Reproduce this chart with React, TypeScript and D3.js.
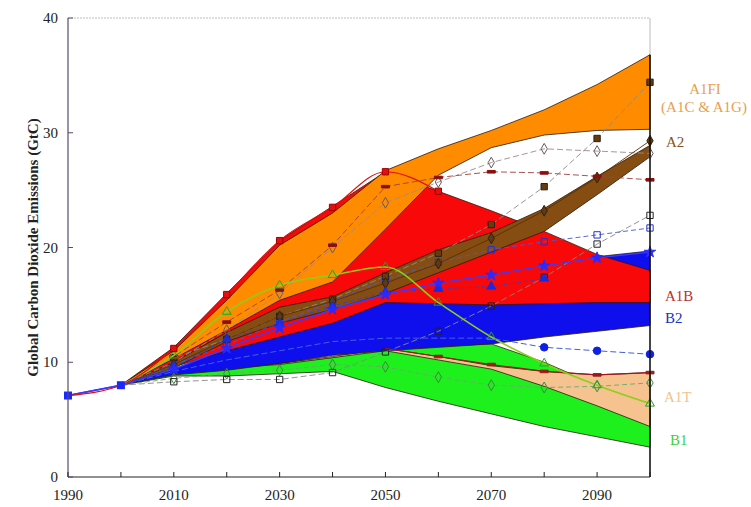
import React from 'react';
import * as d3 from 'd3';

const YEARS = [1990, 2000, 2010, 2020, 2030, 2040, 2050, 2060, 2070, 2080, 2090, 2100];
const BAND_YEARS = [2000, 2010, 2020, 2030, 2040, 2050, 2060, 2070, 2080, 2090, 2100];
const X_TICKS = [1990, 2000, 2010, 2020, 2030, 2040, 2050, 2060, 2070, 2080, 2090, 2100];
const X_LABELS = [1990, 2010, 2030, 2050, 2070, 2090];
const Y_TICKS = [0, 10, 20, 30, 40];

// scenario group ranges (GtC)
const A1FI_UPPER = [8.0, 11.0, 15.4, 20.2, 23.0, 26.7, 28.6, 30.2, 32.0, 34.2, 36.8];
const A1FI_LOWER = [8.0, 10.3, 12.8, 15.4, 17.0, 21.6, 26.3, 28.7, 29.8, 30.2, 30.3];
const A1B_UPPER = [8.0, 11.3, 16.0, 20.6, 23.6, 26.6, 24.9, 23.2, 21.4, 19.4, 18.0];
const A1B_LOWER = [8.0, 9.6, 11.0, 12.2, 13.4, 15.2, 15.1, 15.0, 15.1, 15.2, 15.2];
const A2_UPPER = [8.0, 10.0, 12.6, 14.8, 15.7, 17.8, 19.8, 21.3, 23.4, 26.2, 28.9];
const A2_LOWER = [8.0, 9.5, 11.8, 13.4, 14.6, 16.0, 17.8, 19.6, 21.4, 24.6, 27.9];
const B2_UPPER = [8.0, 9.4, 11.2, 13.0, 14.6, 15.9, 16.9, 17.6, 18.4, 19.2, 19.7];
const B2_LOWER = [8.0, 8.9, 9.3, 9.9, 10.6, 11.0, 11.3, 11.6, 12.2, 12.7, 13.2];
const B1_UPPER = [8.0, 9.3, 9.6, 9.9, 10.4, 11.2, 11.4, 11.6, 10.0, 8.0, 6.0];
const B1_LOWER = [8.0, 8.8, 8.8, 9.0, 9.2, 7.8, 6.6, 5.5, 4.4, 3.5, 2.6];
const A1T_UPPER = [8.0, 9.3, 9.6, 9.9, 10.5, 11.2, 10.5, 9.7, 9.2, 8.9, 9.1];
const A1T_LOWER = [8.0, 9.2, 9.5, 9.8, 10.4, 11.0, 10.2, 9.4, 7.9, 6.2, 4.4];

// individual scenarios (GtC), aligned with YEARS
const S_RED_SQ = [7.1, 8.0, 11.2, 15.9, 20.6, 23.5, 26.6, 24.9, null, null, null, null];
const S_DARKRED_DASH = [null, 8.0, 10.5, 13.5, 16.3, 20.2, 25.3, 26.1, 26.6, 26.5, 26.2, 25.9];
const S_GREY_DIAMOND = [null, 8.0, 10.0, 12.8, 16.0, 20.0, 23.9, 25.7, 27.4, 28.6, 28.4, 28.2];
const S_BROWN_SQ = [null, 8.0, 10.4, 12.0, 14.0, 15.5, 17.5, 19.5, 22.0, 25.3, 29.5, 34.4];
const S_A2_DIAMOND = [null, 8.0, 9.8, 12.0, 14.0, 15.3, 16.9, 18.6, 20.8, 23.2, 26.1, 29.3];
const S_BLUE_STAR = [7.1, 8.0, 9.4, 11.2, 13.0, 14.6, 15.9, 16.9, 17.6, 18.4, 19.1, 19.6];
const S_BLUE_TRI = [null, 8.0, 9.6, 12.0, 13.4, 14.9, 16.1, 16.4, 16.6, 17.3, null, null];
const S_BLUE_CIRCLE = [null, 8.0, 9.2, 10.2, 11.0, 11.8, 12.1, 12.1, 12.1, 11.3, 11.0, 10.7];
const S_BLUE_OPEN_SQ = [null, 8.0, 9.8, 11.5, 13.5, 15.3, 17.2, 18.7, 19.8, 20.5, 21.1, 21.7];
const S_BLACK_OPEN_SQ = [null, 8.0, 8.3, 8.5, 8.5, 9.1, 10.9, 12.7, 14.9, 17.4, 20.3, 22.8];
const S_GREEN_TRI = [null, 8.0, 10.6, 14.4, 16.7, 17.6, 18.3, 15.2, 12.2, 9.9, 8.0, 6.4];
const S_A1T_DARKRED = [null, null, null, null, null, null, 11.2, 10.5, 9.8, 9.2, 8.9, 9.1];
const S_GREEN_DIAMOND = [null, 8.0, 8.6, 9.0, 9.3, 9.8, 9.6, 8.7, 8.0, 7.8, 7.9, 8.2];
const ORIGIN = [7.1, 8.0];

const W = 751, H = 507;
const x = d3.scaleLinear().domain([1990, 2100]).range([68, 650]);
const y = d3.scaleLinear().domain([0, 40]).range([477, 18]);

type Band = { upper: number[]; lower: number[]; fill: string };
const BANDS: Band[] = [
  { upper: B1_UPPER, lower: B1_LOWER, fill: '#1ef01e' },
  { upper: A1T_UPPER, lower: A1T_LOWER, fill: '#f6c28f' },
  { upper: B2_UPPER, lower: B2_LOWER, fill: '#0f0fee' },
  { upper: A1B_UPPER, lower: A1B_LOWER, fill: '#f80808' },
  { upper: A2_UPPER, lower: A2_LOWER, fill: '#864d12' },
  { upper: A1FI_UPPER, lower: A1FI_LOWER, fill: '#ff8c00' },
];

type Series = {
  values: (number | null)[];
  color: string;
  width: number;
  dash?: string;
  symbol: string;
  mfill: string;
  mstroke: string;
  markFrom?: number;
  curve?: boolean;
};

const SERIES: Series[] = [
  { values: S_GREEN_DIAMOND, color: '#6aaa6a', width: 0.9, dash: '5,3', symbol: 'diamond', mfill: 'none', mstroke: '#3a8a3a', markFrom: 2 },
  { values: S_BLACK_OPEN_SQ, color: '#888', width: 0.9, dash: '6,3', symbol: 'square', mfill: 'none', mstroke: '#222', markFrom: 2 },
  { values: S_BLUE_CIRCLE, color: '#4060e0', width: 1, dash: '6,3', symbol: 'circle', mfill: '#1020e0', mstroke: '#1020e0', markFrom: 9 },
  { values: S_A1T_DARKRED, color: '#9b1b1b', width: 1.2, symbol: 'dash', mfill: '#9b1b1b', mstroke: '#9b1b1b', markFrom: 7 },
  { values: S_BLUE_OPEN_SQ, color: '#4a5ad0', width: 0.9, dash: '5,3', symbol: 'square', mfill: 'none', mstroke: '#2233cc', markFrom: 2 },
  { values: S_GREY_DIAMOND, color: '#a08a8a', width: 0.9, dash: '6,3', symbol: 'diamond', mfill: 'none', mstroke: '#6a5a5a', markFrom: 2 },
  { values: S_BROWN_SQ, color: '#8a8a8a', width: 0.9, dash: '6,3', symbol: 'square', mfill: '#6b3a0a', mstroke: '#222', markFrom: 2 },
  { values: S_A2_DIAMOND, color: '#5a3000', width: 0.9, symbol: 'diamond', mfill: '#5a3a1a', mstroke: '#3a2000', markFrom: 2 },
  { values: S_DARKRED_DASH, color: '#a04040', width: 0.9, dash: '6,3', symbol: 'dash', mfill: '#8b1010', mstroke: '#8b1010', markFrom: 2 },
  { values: S_BLUE_TRI, color: '#3040d0', width: 0.9, dash: '4,3', symbol: 'triangle', mfill: '#1a2ae0', mstroke: '#1a2ae0', markFrom: 2 },
  { values: S_BLUE_STAR, color: '#3b3bff', width: 1.4, symbol: 'star', mfill: '#2a2aff', mstroke: '#2a2aff', markFrom: 2 },
  { values: S_GREEN_TRI, color: '#8ccf1a', width: 1.6, symbol: 'triangle', mfill: 'none', mstroke: '#2aa02a', markFrom: 2, curve: true },
  { values: S_RED_SQ, color: '#e01010', width: 1.2, symbol: 'square', mfill: '#e01010', mstroke: '#a00000', markFrom: 2, curve: true },
];

const symbolPath = (name: string): string => {
  const map: Record<string, d3.SymbolType> = {
    square: d3.symbolSquare,
    diamond: d3.symbolDiamond,
    triangle: d3.symbolTriangle,
    circle: d3.symbolCircle,
    star: d3.symbolStar,
  };
  if (name === 'dash') return 'M-4,-1.3H4V1.3H-4Z';
  const size = name === 'square' ? 40 : name === 'circle' ? 45 : name === 'star' ? 40 : 34;
  return d3.symbol(map[name], size)() as string;
};

export default function App() {
  const area = d3
    .area<number>()
    .x((_, i) => x(BAND_YEARS[i]))
    .y0((_, i) => y(0))
    .y1((d) => y(d));

  const bandPath = (b: Band) => {
    const pts: [number, number][] = [];
    b.upper.forEach((v, i) => pts.push([x(BAND_YEARS[i]), y(v)]));
    for (let i = b.lower.length - 1; i >= 0; i--) pts.push([x(BAND_YEARS[i]), y(b.lower[i])]);
    return d3.line()(pts) + 'Z';
  };
  void area;

  return (
    <svg width={W} height={H} style={{ position: 'absolute', left: 0, top: 0, background: '#fff' }}
      fontFamily="'Liberation Serif', 'DejaVu Serif', serif">
      {/* frame */}
      <line x1={x(1990)} x2={x(2100)} y1={y(40)} y2={y(40)} stroke="#b8bcc0" strokeWidth={1} strokeDasharray="2,1" />
      <line x1={x(2100)} x2={x(2100)} y1={y(40)} y2={y(0)} stroke="#b8bcc0" strokeWidth={1} />

      {/* bands */}
      {BANDS.map((b, i) => (
        <path key={i} d={bandPath(b)} fill={b.fill} stroke="#2a1a10" strokeWidth={0.8} strokeLinejoin="round" />
      ))}

      {/* 1990-2000 trunk */}
      <path d={d3.line<number>().x((_, i) => x(YEARS[i])).y((d) => y(d))(ORIGIN) as string} stroke="#2a2aff" strokeWidth={1.6} fill="none" />

      {/* scenario lines */}
      {SERIES.map((s, si) => {
        const pts = s.values.map((v, i) => [YEARS[i], v] as [number, number | null]).filter((p) => p[1] !== null) as [number, number][];
        const gen = d3.line<[number, number]>().x((p) => x(p[0])).y((p) => y(p[1]));
        if (s.curve) gen.curve(d3.curveMonotoneX);
        const sym = symbolPath(s.symbol);
        return (
          <g key={si}>
            <path d={gen(pts) as string} fill="none" stroke={s.color} strokeWidth={s.width} strokeDasharray={s.dash} />
            {s.values.map((v, i) =>
              v === null || i < (s.markFrom ?? 0) ? null : (
                <path key={i} d={sym} transform={`translate(${x(YEARS[i])},${y(v)})`} fill={s.mfill} stroke={s.mstroke} strokeWidth={1} />
              )
            )}
          </g>
        );
      })}

      {/* origin markers */}
      {ORIGIN.map((v, i) => (
        <rect key={i} x={x(YEARS[i]) - 4} y={y(v) - 4} width={8} height={8} fill="#1a2aff" />
      ))}

      {/* axes */}
      <line x1={x(1990)} x2={x(1990)} y1={y(40)} y2={y(0)} stroke="#5a4a6a" strokeWidth={1.2} />
      <line x1={x(1990)} x2={x(2100)} y1={y(0)} y2={y(0)} stroke="#222" strokeWidth={1.2} />
      <line x1={x(2100)} x2={x(2100)} y1={y(A1FI_UPPER[10])} y2={y(0)} stroke="#111" strokeWidth={1.5} />
      {Y_TICKS.map((t) => (
        <g key={t}>
          <line x1={x(1990)} x2={x(1990) + 5} y1={y(t)} y2={y(t)} stroke="#5a4a6a" />
          <text x={58} y={y(t) + 5} textAnchor="end" fontSize={15} fill="#222">{t}</text>
        </g>
      ))}
      {X_TICKS.map((t) => (
        <line key={t} x1={x(t)} x2={x(t)} y1={y(0)} y2={y(0) - 5} stroke="#222" />
      ))}
      {X_LABELS.map((t) => (
        <text key={t} x={x(t)} y={500} textAnchor="middle" fontSize={15} fill="#222">{t}</text>
      ))}
      <text transform={`translate(38,${(y(0) + y(40)) / 2}) rotate(-90)`} textAnchor="middle" fontSize={15} fontWeight="bold" fill="#222">
        Global Carbon Dioxide Emissions (GtC)
      </text>

      {/* scenario labels */}
      <text x={705} y={94} textAnchor="middle" fontSize={15} fill="#e8a050">A1FI</text>
      <text x={704} y={112} textAnchor="middle" fontSize={15} fill="#e8a050">(A1C &amp; A1G)</text>
      <text x={666} y={147} fontSize={15} fill="#8b5020">A2</text>
      <text x={665} y={301} fontSize={15} fill="#c0302a">A1B</text>
      <text x={665} y={323} fontSize={15} fill="#2030c0">B2</text>
      <text x={664} y={402} fontSize={15} fill="#eec48e">A1T</text>
      <text x={670} y={445} fontSize={15} fill="#40d040">B1</text>
    </svg>
  );
}
